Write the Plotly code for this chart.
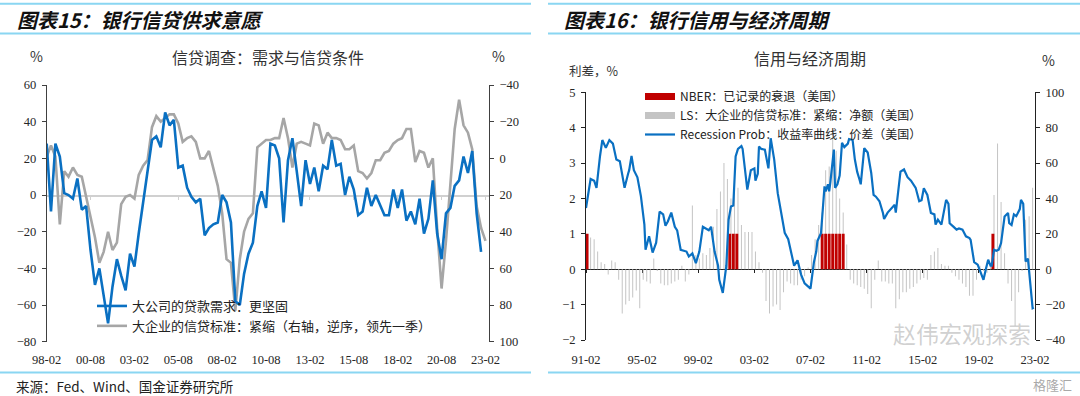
import plotly.graph_objects as go
import pandas as pd

W, H = 1080, 396
CJK = "Noto Sans CJK SC"
SERIF = "Liberation Serif"

# ---------------- Left chart: SLOOS (quarterly, from 1998-02) ----------------
demand_large = [28, -9, 28, 21, 1, 0, -2, 9, -8, -6,
                -30, -49, -40, -55, -70, -50, -35, -44, -52, -32,
                -39, -21, -3, 14, 30, 32, 26, 45, 38, 41,
                15, 16, 4, -1, -4, -2, -22, -18, -16, -15,
                0, -4, -15, -58, -60, -43, -32, -26, -6, 2,
                -7, 28, 27, 20, -15, 19, 31, 13, -6, 19,
                6, 15, 2, 16, 14, 30, 16, 17, 0, 10,
                3, -11, -9, 4, -6, 0, -6, -11, -11, 3,
                -7, 3, -14, -9, -16, -2, -21, -13, 8, -21,
                -35, -10, -7, 5, 8, 21, 12, 24, -10, -31]

standards_large = [-1, -7, -1, 36, 7, 10, 5, 9, 10, 21,
                   32, 43, 57, 51, 40, 50, 46, 25, 21, 20,
                   22, 9, 4, 1, -17, -23, -20, -22, -24, -24,
                   -19, -9, -11, -12, -9, 0, 0, -4, 6, 15,
                   30, 55, 57, 83, 55, 40, 33, 30, -6, -8,
                   -10, -10, -11, -11, -22, -11, 5, -8, -9, -8,
                   -7, -19, -18, -8, -14, -11, -11, -10, -5, -5,
                   -7, 7, 8, 11, 8, 1, 1, -3, -4, -8,
                   -10, -11, -16, -16, 2, -4, -3, 5, 0, 38,
                   71, 45, 14, -16, -32, -18, -14, -5, 26, 38,
                   45]

left_start = "1998-02-01"
left_range = ["1998-02-01", "2023-04-15"]
left_y_ticks = [-80, -60, -40, -20, 0, 20, 40, 60]
left_y2_ticks = [-40, -20, 0, 20, 40, 60, 80, 100]

# ---------------- Right chart ----------------
ls_values = [15, 18, 17, 10, 4, 3, -3, 5, 4, -6,
             -25, -20, -18, -16, -12, -22, -6, -7, -8, 6,
             -1, -8, -9, -9, -8, -7, -6, 2, -7, -3,
             36, 8, 6, 9, 8, 12, 24, 34, 44, 60,
             51, 40, 52, 46, 25, 21, 21, 21, 10, 4,
             -2, -18, -25, -21, -20, -23, -13, -7, -8, -9,
             -9, -6, -4, 1, 8, 17, 25, 32, 56, 58,
             79, 67, 40, 32, 14, -6, -8, -9, -10, -11,
             -14, -22, -6, 5, -7, -7, -8, -8, -22, -17,
             -13, -13, -11, -10, -8, -6, -5, -6, 8, 10,
             12, 3, 2, 2, -2, -4, -6, -8, -10, -15,
             -15, -6, 2, -1, -2, 3, 42, 71, 38, 9,
             -8, -18, -32, -13, -1, 28, 30, 46]
ls_start = "1991-03-01"

nber_dates = ["1991-03-01", "2001-05-01", "2001-08-01", "2001-11-01",
              "2007-12-01", "2008-03-01", "2008-06-01", "2008-09-01",
              "2008-12-01", "2009-03-01", "2009-06-01", "2020-02-01"]
nber_values = [1, 1, 1, 1, 1, 1, 1, 1, 1, 1, 1, 1]

rp_dates = ["1991-02", "1991-06", "1991-09", "1991-11", "1992-02", "1992-04", "1992-07", "1992-10",
            "1993-01", "1993-04", "1993-07", "1993-09", "1993-11", "1994-02", "1994-03", "1994-05",
            "1994-07", "1994-10", "1995-01", "1995-04", "1995-05", "1995-08", "1995-11", "1996-02",
            "1996-05", "1996-08", "1996-10", "1996-12", "1997-03", "1997-06", "1997-08", "1997-11",
            "1998-04", "1998-06", "1998-09", "1998-12", "1999-03", "1999-06", "1999-09", "1999-11",
            "2000-01", "2000-04", "2000-07", "2000-08", "2000-11", "2001-02", "2001-04", "2001-06",
            "2001-08", "2001-10", "2001-12", "2002-03", "2002-04", "2002-07", "2002-08", "2002-11",
            "2003-02", "2003-03", "2003-05", "2003-06", "2003-08", "2003-11", "2004-02", "2004-04",
            "2004-07", "2004-10", "2005-01", "2005-04", "2005-07", "2005-09", "2005-12", "2006-03",
            "2006-06", "2006-09", "2007-02", "2007-05", "2007-07", "2007-08", "2007-11", "2008-02",
            "2008-03", "2008-05", "2008-06", "2008-07", "2008-09", "2008-10", "2008-11", "2009-01",
            "2009-03", "2009-05", "2009-07", "2009-10", "2009-11", "2010-02", "2010-04", "2010-06",
            "2010-08", "2010-09", "2010-12", "2011-03", "2011-06", "2011-08", "2011-10", "2012-01",
            "2012-04", "2012-05", "2012-08", "2012-11", "2013-02", "2013-03", "2013-05", "2013-07",
            "2013-10", "2014-01", "2014-04", "2014-07", "2014-08", "2014-11", "2015-01", "2015-03",
            "2015-06", "2015-09", "2015-12", "2016-01", "2016-03", "2016-06", "2016-08", "2016-10",
            "2016-12", "2017-01", "2017-04", "2017-07", "2017-09", "2017-12", "2018-03", "2018-06",
            "2018-07", "2018-08", "2018-10", "2019-01", "2019-04", "2019-06", "2019-08", "2019-10",
            "2019-12", "2020-01", "2020-03", "2020-05", "2020-07", "2020-09", "2020-12", "2021-03",
            "2021-04", "2021-06", "2021-08", "2021-10", "2022-01", "2022-02", "2022-04", "2022-05",
            "2022-06", "2022-08", "2022-09", "2022-11", "2022-12", "2023-01"]
rp_values = [1.73, 2.55, 2.5, 2.3, 3.2, 3.65, 3.43, 3.65,
             3.55, 3.1, 3.05, 2.6, 2.3, 2.7, 2.8, 3.2,
             2.8, 2.6, 2.06, 1.26, 0.55, 0.93, 0.47, 0.75,
             1.63, 1.55, 1.23, 1.35, 1.6, 1.2, 1.1, 0.55,
             0.5, 0.36, 0.45, 0.17, 0.5, 1.2, 1.15, 1.1,
             1.2, 0.5, 0.1, -0.3, -0.67, 0.1, 1.4, 1.77,
             1.8, 3.19, 3.4, 3.48, 3.4, 2.53, 2.25, 2.8,
             2.85, 2.5, 2.7, 3.47, 3.4, 3.38, 2.85, 3.7,
             3.1, 2.15, 1.59, 1.03, 0.85, 0.55, 0.1, 0.25,
             -0.15, -0.4, -0.55, 0.2, 0.5, 0.8, 1.02, 2.34,
             2.2, 2.4, 2.2, 2.45, 3.0, 3.38, 2.3, 2.4,
             2.65, 3.57, 3.45, 3.55, 3.68, 3.65, 3.1, 2.75,
             2.53, 2.4, 3.42, 3.3, 2.72, 2.1, 2.05, 1.92,
             1.59, 1.42, 1.6, 1.7, 1.82, 1.6, 2.2, 2.76,
             2.82, 2.6, 2.5, 2.34, 2.3, 1.92, 1.95, 2.29,
             2.1, 1.59, 1.55, 1.26, 1.4, 1.26, 1.59, 1.96,
             1.85, 1.3, 1.21, 1.12, 1.15, 1.12, 0.93, 0.88,
             0.83, 0.64, 0.2, 0.13, -0.1, -0.3, 0.0, 0.27,
             0.1, 0.1, 0.55, 0.52, 0.55, 0.74, 1.49, 1.59,
             1.3, 1.25, 1.55, 1.5, 1.7, 1.96, 1.85, 0.93,
             0.22, 0.3, -0.1, -0.67, -1.1, -1.08]
assert len(rp_dates) == len(rp_values)

right_range = ["1991-02-01", "2023-02-01"]
right_y_ticks = [-2, -1, 0, 1, 2, 3, 4, 5]
right_y2_ticks = [-40, -20, 0, 20, 40, 60, 80, 100]

DAY_MS = 86400000

# ---------------- helpers (pixel -> paper) ----------------
def px(x):
    return x / W

def py(y):
    return 1 - y / H

L_X = [px(46.7), px(489)]
L_Y = [py(341.7), py(85)]
R_X = [px(586), px(1035)]
R_Y = [py(340), py(92.3)]

dem_dates = pd.date_range(left_start, periods=len(demand_large), freq="3MS")
std_dates = pd.date_range(left_start, periods=len(standards_large), freq="3MS")
ls_dates = pd.date_range(ls_start, periods=len(ls_values), freq="3MS")

BLUE = "#0A70C2"
GRAY = "#A6A6A6"
tickfont = dict(family=SERIF, size=12.5, color="#262626")

fig = go.Figure()

# ---- left chart traces (gray on base/right axis, blue on overlay/left) ----
fig.add_trace(go.Scatter(x=std_dates, y=standards_large, xaxis="x", yaxis="y",
                         mode="lines", line=dict(color=GRAY, width=2.6),
                         name="大企业的信贷标准：紧缩（右轴，逆序，领先一季）",
                         legend="legend", legendrank=2, legendgroup="b"))
fig.add_trace(go.Scatter(x=dem_dates, y=demand_large, xaxis="x", yaxis="y2",
                         mode="lines", line=dict(color=BLUE, width=2.6),
                         name="大公司的贷款需求：更坚固",
                         legend="legend", legendrank=1, legendgroup="a"))
fig.add_trace(go.Scatter(x=[dem_dates[0]], y=[None], xaxis="x5", yaxis="y2",
                         mode="lines", showlegend=False, hoverinfo="skip"))

# ---- right chart traces ----
fig.add_trace(go.Bar(x=ls_dates, y=ls_values, xaxis="x3", yaxis="y3",
                     marker=dict(color="#C4C4C4", line=dict(width=0)),
                     width=26 * DAY_MS, showlegend=False, hoverinfo="skip"))
fig.add_trace(go.Bar(x=nber_dates, y=nber_values, xaxis="x3", yaxis="y4",
                     marker=dict(color="#C00000", line=dict(width=0)),
                     width=76 * DAY_MS, showlegend=False, hoverinfo="skip"))
fig.add_trace(go.Scatter(x=rp_dates, y=rp_values, xaxis="x3", yaxis="y4",
                         mode="lines", line=dict(color=BLUE, width=2.2),
                         name="Recession Prob：收益率曲线：价差（美国）",
                         legend="legend2", legendrank=3))
fig.add_trace(go.Scatter(x=[None], y=[None], xaxis="x3", yaxis="y4", mode="lines",
                         line=dict(color="#C00000", width=7),
                         name="NBER：已记录的衰退（美国）", legend="legend2", legendrank=1))
fig.add_trace(go.Scatter(x=[None], y=[None], xaxis="x3", yaxis="y4", mode="lines",
                         line=dict(color="#C4C4C4", width=7),
                         name="LS：大企业的信贷标准：紧缩：净额（美国）", legend="legend2", legendrank=2))
fig.add_trace(go.Scatter(x=[ls_dates[0]], y=[None], xaxis="x6", yaxis="y4",
                         mode="lines", showlegend=False, hoverinfo="skip"))

axis_common = dict(showgrid=False, zeroline=False, fixedrange=True, automargin=False)

zero_left = L_Y[0] + (L_Y[1] - L_Y[0]) * (80 / 140)
zero_right = R_Y[0] + (R_Y[1] - R_Y[0]) * (2 / 7)

fig.update_layout(
    template="none",
    width=W, height=H,
    margin=dict(l=0, r=0, t=0, b=0, pad=0, autoexpand=False),
    paper_bgcolor="white", plot_bgcolor="white",
    barmode="overlay", hovermode=False,
    font=dict(family=CJK, color="#222222"),
    xaxis=dict(domain=L_X, anchor="y", type="date", range=left_range,
               tick0=left_start, dtick="M30", tickformat="%y-%m",
               showline=False, ticks="", tickfont=tickfont,
               ticklabelstandoff=9, **axis_common),
    yaxis=dict(domain=L_Y, anchor="x", side="right", range=[100, -40],
               tickvals=left_y2_ticks, showline=True, linecolor="#404040", linewidth=1,
               ticks="outside", ticklen=4, tickcolor="#404040", tickfont=tickfont,
               ticklabelstandoff=3, **axis_common),
    yaxis2=dict(overlaying="y", anchor="x", side="left", range=[-80, 60],
                tickvals=left_y_ticks, showline=True, linecolor="#404040", linewidth=1,
                ticks="outside", ticklen=4, tickcolor="#404040", tickfont=tickfont,
                ticklabelstandoff=3, **axis_common),
    xaxis5=dict(overlaying="x", anchor="free", position=zero_left, type="date",
                range=left_range, tick0=left_start, dtick="M30",
                showticklabels=False, ticks="outside", ticklen=3, tickcolor="#D0D0D0",
                showline=True, linecolor="#D0D0D0", linewidth=1.5, layer="below traces",
                **axis_common),
    xaxis3=dict(domain=R_X, anchor="y3", type="date", range=right_range,
                tick0="1991-02-01", dtick="M48", tickformat="%y-%m",
                showline=False, ticks="", tickfont=tickfont,
                ticklabelstandoff=10, **axis_common),
    yaxis3=dict(domain=R_Y, anchor="x3", side="right", range=[-40, 100],
                tickvals=right_y2_ticks, showline=True, linecolor="#222222", linewidth=1,
                ticks="outside", ticklen=4, tickcolor="#222222", tickfont=tickfont,
                ticklabelstandoff=3, **axis_common),
    yaxis4=dict(overlaying="y3", anchor="x3", side="left", range=[-2, 5],
                tickvals=right_y_ticks, showline=True, linecolor="#222222", linewidth=1,
                ticks="outside", ticklen=4, tickcolor="#222222", tickfont=tickfont,
                ticklabelstandoff=3, **axis_common),
    xaxis6=dict(overlaying="x3", anchor="free", position=zero_right, type="date",
                range=right_range, tick0="1991-02-01", dtick="M48",
                showticklabels=False, ticks="outside", ticklen=3, tickcolor="#222222",
                showline=True, linecolor="#222222", linewidth=1.2, layer="below traces",
                **axis_common),
    legend=dict(x=px(92), y=py(291), xanchor="left", yanchor="top",
                bgcolor="rgba(0,0,0,0)", font=dict(family=CJK, size=13, color="#222222"),
                tracegroupgap=10, itemwidth=30, traceorder="normal"),
    legend2=dict(x=px(640), y=py(82), xanchor="left", yanchor="top",
                 bgcolor="rgba(0,0,0,0)", font=dict(family=CJK, size=12, color="#222222"),
                 tracegroupgap=0, itemwidth=30, traceorder="normal"),
)

# ---------------- decorations: header lines, titles, notes ----------------
LINE_C = "#8AD6F2"
shapes = []
for x0, x1 in [(0, 531), (548, 1080)]:
    for yy in (3.8, 33.5, 372.4):
        shapes.append(dict(type="line", xref="paper", yref="paper",
                           x0=px(x0), x1=px(x1), y0=py(yy), y1=py(yy),
                           line=dict(color=LINE_C, width=2)))
fig.update_layout(shapes=shapes)

def ann(text, x, y, size, color="#222222", family=CJK, xanchor="center", **kw):
    fig.add_annotation(text=text, x=px(x), y=py(y), xref="paper", yref="paper",
                       showarrow=False, xanchor=xanchor, yanchor="middle",
                       font=dict(family=family, size=size, color=color), **kw)

ann("<b><i>图表15：银行信贷供求意愿</i></b>", 15, 19.5, 20, color="#111111", xanchor="left")
ann("<b><i>图表16：银行信用与经济周期</i></b>", 562, 19.5, 20, color="#111111", xanchor="left")
ann("信贷调查：需求与信贷条件", 268, 57, 16, color="#333333")
ann("%", 36, 56, 14, color="#333333")
ann("%", 498, 56, 14, color="#333333")
ann("信用与经济周期", 810, 58.5, 16, color="#333333")
ann("利差，%", 594, 70, 12.5, color="#333333")
ann("%", 1048, 60, 14, color="#333333")
ann("来源：Fed、Wind、国金证券研究所", 14, 385.5, 13.5, color="#222222", xanchor="left")
ann("赵伟宏观探索", 962, 333, 23, color="rgba(150,150,150,0.45)")
ann("格隆汇", 1052, 384, 13, color="rgba(140,140,140,0.75)")

fig.write_html("out.html", include_plotlyjs=True,
               config={"displayModeBar": False, "staticPlot": True},
               post_script="document.body.style.margin='0px';document.body.style.overflow='hidden';")
